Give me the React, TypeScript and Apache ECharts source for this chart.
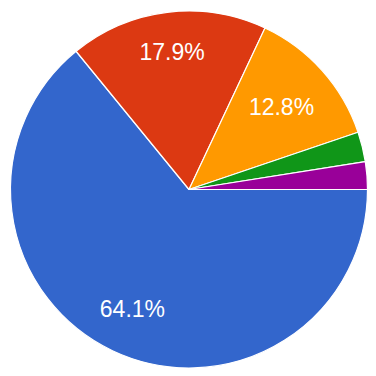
import React, { useEffect, useRef } from "react";
import * as echarts from "echarts";

const categories = ["A", "B", "C", "D", "E"];
const values = [64.1, 17.9, 12.8, 2.7, 2.5];
const colors = ["#3366cc", "#dc3912", "#ff9900", "#109618", "#990099"];

// label distance from centre (px) for the slices that carry a label
const labelRadius: Record<number, number> = { 0: 129, 1: 136, 2: 121 };

const CENTER = [189, 189.5];
const RADIUS = 178.5;

export default function App() {
  const ref = useRef<HTMLDivElement>(null);
  useEffect(() => {
    document.body.style.margin = "0";
    const chart = echarts.init(ref.current!, null, { renderer: "svg" });
    const data = categories.map((name, i) => ({
      name,
      value: values[i],
      itemStyle: { color: colors[i] },
    }));
    const overlays = Object.keys(labelRadius).map((k) => {
      const idx = Number(k);
      return {
        type: "pie" as const,
        silent: true,
        center: CENTER,
        radius: [0, labelRadius[idx] * 2],
        startAngle: 0,
        clockwise: true,
        avoidLabelOverlap: false,
        itemStyle: { color: "rgba(0,0,0,0)", borderWidth: 0 },
        labelLine: { show: false },
        emphasis: { disabled: true },
        data: categories.map((name, i) => ({
          name,
          value: values[i],
          label: {
            show: i === idx,
            position: "inside",
            formatter: (p: any) => `${Number(p.value).toFixed(1)}%`,
            color: "#ffffff",
            fontSize: 23,
            fontFamily: "Liberation Sans, Arial, sans-serif",
          },
        })),
        z: 5,
      };
    });
    chart.setOption({
      animation: false,
      backgroundColor: "#ffffff",
      series: [
        {
          type: "pie",
          center: CENTER,
          radius: [0, RADIUS],
          startAngle: 0,
          clockwise: true,
          avoidLabelOverlap: false,
          label: { show: false },
          labelLine: { show: false },
          itemStyle: { borderColor: "#ffffff", borderWidth: 1.2 },
          emphasis: { disabled: true },
          data,
        },
        ...overlays,
      ],
    });
    return () => chart.dispose();
  }, []);
  return <div ref={ref} style={{ width: 376, height: 376 }} />;
}
